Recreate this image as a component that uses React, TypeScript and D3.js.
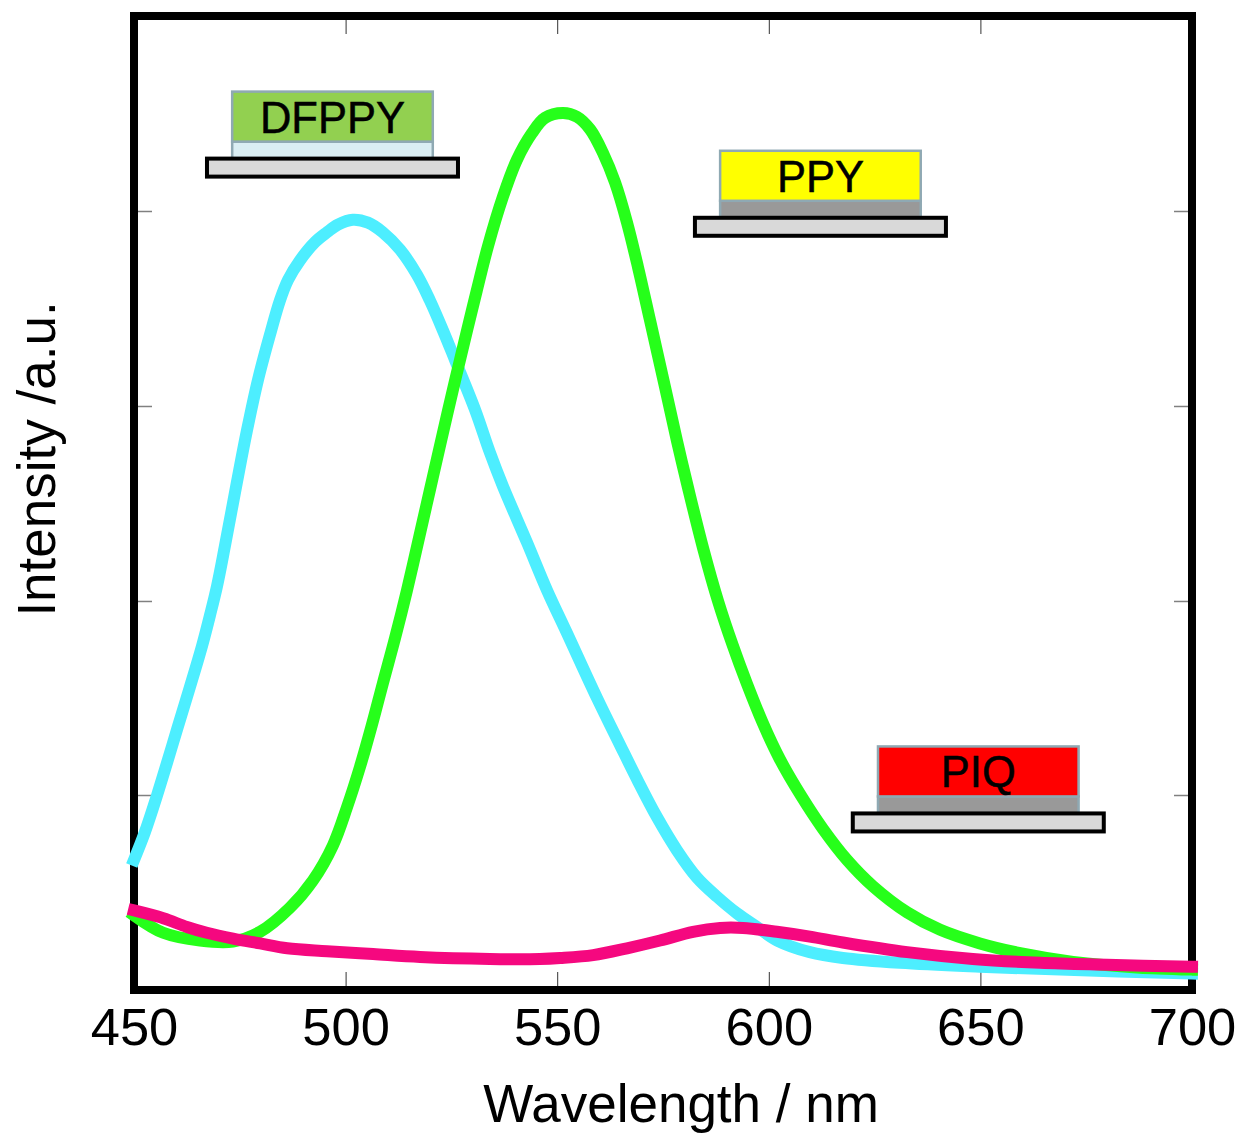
import React, { useEffect, useRef } from "react";
import * as d3 from "d3";

const width = 1236;
const height = 1133;
const margin = { top: 16, right: 44, bottom: 143, left: 134 };

const xTicks = [450, 500, 550, 600, 650, 700];
// y axis has no labels, tick levels read off the picture
const yTicks = [0.198, 0.398, 0.599, 0.8];

const cyanNm = [450, 452.6, 455.4, 458, 460.2, 463.2, 466.1, 468, 469.6, 471.5, 474.3, 476.7, 479.3, 482.1, 484.5, 486.4, 489.2, 492.8, 495.6, 498.2, 501.7, 505.3, 508.8, 512.9, 516.9, 519.9, 523, 525.9, 530.6, 534.1, 537.2, 542.9, 547.6, 552.3, 559.4, 564.8, 568.9, 573.6, 578.3, 583, 587.8, 592.5, 597.2, 602, 609.7, 617.5, 631, 649.9, 668.8, 700];
const cyanValues = [0.131, 0.16, 0.197, 0.234, 0.266, 0.309, 0.352, 0.384, 0.413, 0.455, 0.52, 0.574, 0.626, 0.672, 0.708, 0.729, 0.749, 0.768, 0.778, 0.786, 0.791, 0.788, 0.778, 0.76, 0.734, 0.708, 0.677, 0.646, 0.595, 0.551, 0.516, 0.458, 0.409, 0.365, 0.298, 0.25, 0.214, 0.175, 0.141, 0.113, 0.093, 0.076, 0.062, 0.048, 0.036, 0.03, 0.025, 0.021, 0.018, 0.014];

const greenNm = [450, 456.9, 465.6, 473.4, 479.8, 486.9, 492.3, 497, 500.3, 503.4, 506.2, 508.8, 511.7, 514.5, 517.6, 519.9, 522.3, 525.9, 528.7, 531, 533.6, 537.2, 540.5, 544, 547.1, 551.4, 554.7, 557.8, 560.8, 563.7, 566.5, 569.1, 571.9, 575.5, 578.3, 580.9, 584.5, 588, 591.5, 594.8, 598.6, 602.6, 607.8, 612.8, 618.5, 624.6, 632.7, 640.5, 649.9, 659.4, 671.9, 687.7, 700];
const greenValues = [0.074, 0.056, 0.048, 0.047, 0.057, 0.082, 0.11, 0.146, 0.185, 0.227, 0.27, 0.313, 0.36, 0.409, 0.468, 0.512, 0.558, 0.626, 0.677, 0.718, 0.763, 0.815, 0.853, 0.88, 0.896, 0.901, 0.897, 0.884, 0.86, 0.829, 0.788, 0.742, 0.688, 0.618, 0.563, 0.515, 0.452, 0.398, 0.352, 0.313, 0.272, 0.235, 0.196, 0.163, 0.131, 0.104, 0.077, 0.059, 0.045, 0.035, 0.026, 0.02, 0.018];

const pinkNm = [450, 456.9, 462.5, 467.2, 473.4, 479.8, 486.2, 495.6, 506.5, 517.6, 534.1, 545.9, 550.7, 558.5, 566.5, 574.3, 582.1, 588.5, 593.9, 601.9, 609.7, 617.5, 632.7, 648.2, 664.1, 679.9, 700];
const pinkValues = [0.079, 0.071, 0.062, 0.056, 0.05, 0.045, 0.04, 0.037, 0.034, 0.031, 0.029, 0.029, 0.03, 0.033, 0.04, 0.048, 0.057, 0.061, 0.061, 0.057, 0.052, 0.046, 0.036, 0.029, 0.025, 0.023, 0.021];

const deviceNames = ["DFPPY", "PPY", "PIQ"];
const deviceNm = [496.9, 612.2, 649.5];
const deviceLevels = [0.854, 0.793, 0.179];

const font = "'Liberation Sans', Arial, sans-serif";

export default function App() {
  const ref = useRef<SVGSVGElement>(null);

  useEffect(() => {
    const svg = d3.select(ref.current);
    svg.selectAll("*").remove();

    const innerW = width - margin.left - margin.right;
    const innerH = height - margin.top - margin.bottom;

    const x = d3.scaleLinear().domain([450, 700]).range([0, innerW]);
    const y = d3.scaleLinear().domain([-0.003, 1.001]).range([innerH, 0]);

    const g = svg.append("g").attr("transform", `translate(${margin.left},${margin.top})`);

    // ticks on all four sides, pointing inward
    const tickLen = 18;
    const bottom = g.append("g").attr("class", "xa").attr("transform", `translate(0,${innerH})`)
      .call(d3.axisBottom(x).tickValues(xTicks).tickFormat(d3.format("d")).tickSizeInner(-tickLen).tickSizeOuter(0).tickPadding(18));
    g.append("g").attr("class", "xa")
      .call(d3.axisTop(x).tickValues(xTicks).tickFormat(() => "").tickSizeInner(-tickLen).tickSizeOuter(0));
    g.append("g").attr("class", "ya")
      .call(d3.axisLeft(y).tickValues(yTicks).tickFormat(() => "").tickSizeInner(-tickLen).tickSizeOuter(0));
    g.append("g").attr("class", "ya").attr("transform", `translate(${innerW},0)`)
      .call(d3.axisRight(y).tickValues(yTicks).tickFormat(() => "").tickSizeInner(-tickLen).tickSizeOuter(0));

    g.selectAll(".domain").remove();
    g.selectAll(".xa .tick line").attr("stroke", "#333").attr("stroke-width", 1);
    g.selectAll(".ya .tick line").attr("stroke", "#808080").attr("stroke-width", 1.5);
    bottom.selectAll("text").attr("font-family", font).attr("font-size", 52.5).attr("fill", "#000");

    g.append("rect")
      .attr("width", innerW)
      .attr("height", innerH)
      .attr("fill", "none")
      .attr("stroke", "#000")
      .attr("stroke-width", 8);

    const line = (nm: number[], vals: number[], color: string) => {
      const path = d3.line<number>()
        .x((d) => x(d))
        .y((_, i) => y(vals[i]))
        .curve(d3.curveCatmullRom.alpha(0.5));
      g.append("path")
        .attr("d", path(nm))
        .attr("fill", "none")
        .attr("stroke", color)
        .attr("stroke-width", 12)
        .attr("stroke-linecap", "square");
    };
    line(cyanNm, cyanValues, "#4DEEFF");
    line(greenNm, greenValues, "#26FF1A");
    line(pinkNm, pinkValues, "#F5087F");

    // little device stacks
    const topFill: Record<string, string> = { DFPPY: "#92D050", PPY: "#FFFF00", PIQ: "#FF0000" };
    const midFill: Record<string, string> = { DFPPY: "#DAEEF3", PPY: "#999999", PIQ: "#999999" };
    deviceNames.forEach((name, i) => {
      const cx = x(deviceNm[i]);
      const base = y(deviceLevels[i]);
      const dev = g.append("g");
      dev.append("rect").attr("x", cx - 100.3).attr("y", base - 17).attr("width", 200.6).attr("height", 17)
        .attr("fill", midFill[name]).attr("stroke", "#8FA9B3").attr("stroke-width", 2.5);
      dev.append("rect").attr("x", cx - 100.3).attr("y", base - 67).attr("width", 200.6).attr("height", 50)
        .attr("fill", topFill[name]).attr("stroke", "#8FA9B3").attr("stroke-width", 2.5);
      dev.append("rect").attr("x", cx - 125.5).attr("y", base).attr("width", 251).attr("height", 18)
        .attr("fill", "#D9D9D9").attr("stroke", "#000").attr("stroke-width", 4);
      dev.append("text").attr("x", cx).attr("y", base - 26)
        .attr("text-anchor", "middle")
        .attr("font-family", font)
        .attr("font-size", 43.5)
        .attr("fill", "#000")
        .attr("stroke", "#000")
        .attr("stroke-width", 0.5)
        .text(name);
    });

    svg.append("text")
      .attr("x", 681)
      .attr("y", 1122)
      .attr("text-anchor", "middle")
      .attr("font-family", font)
      .attr("font-size", 53)
      .text("Wavelength / nm");

    svg.append("text")
      .attr("transform", "translate(55,459) rotate(-90)")
      .attr("text-anchor", "middle")
      .attr("font-family", font)
      .attr("font-size", 53)
      .text("Intensity /a.u.");
  }, []);

  return (
    <svg
      ref={ref}
      width={width}
      height={height}
      style={{ position: "absolute", left: 0, top: 0, display: "block", background: "#fff" }}
    />
  );
}
